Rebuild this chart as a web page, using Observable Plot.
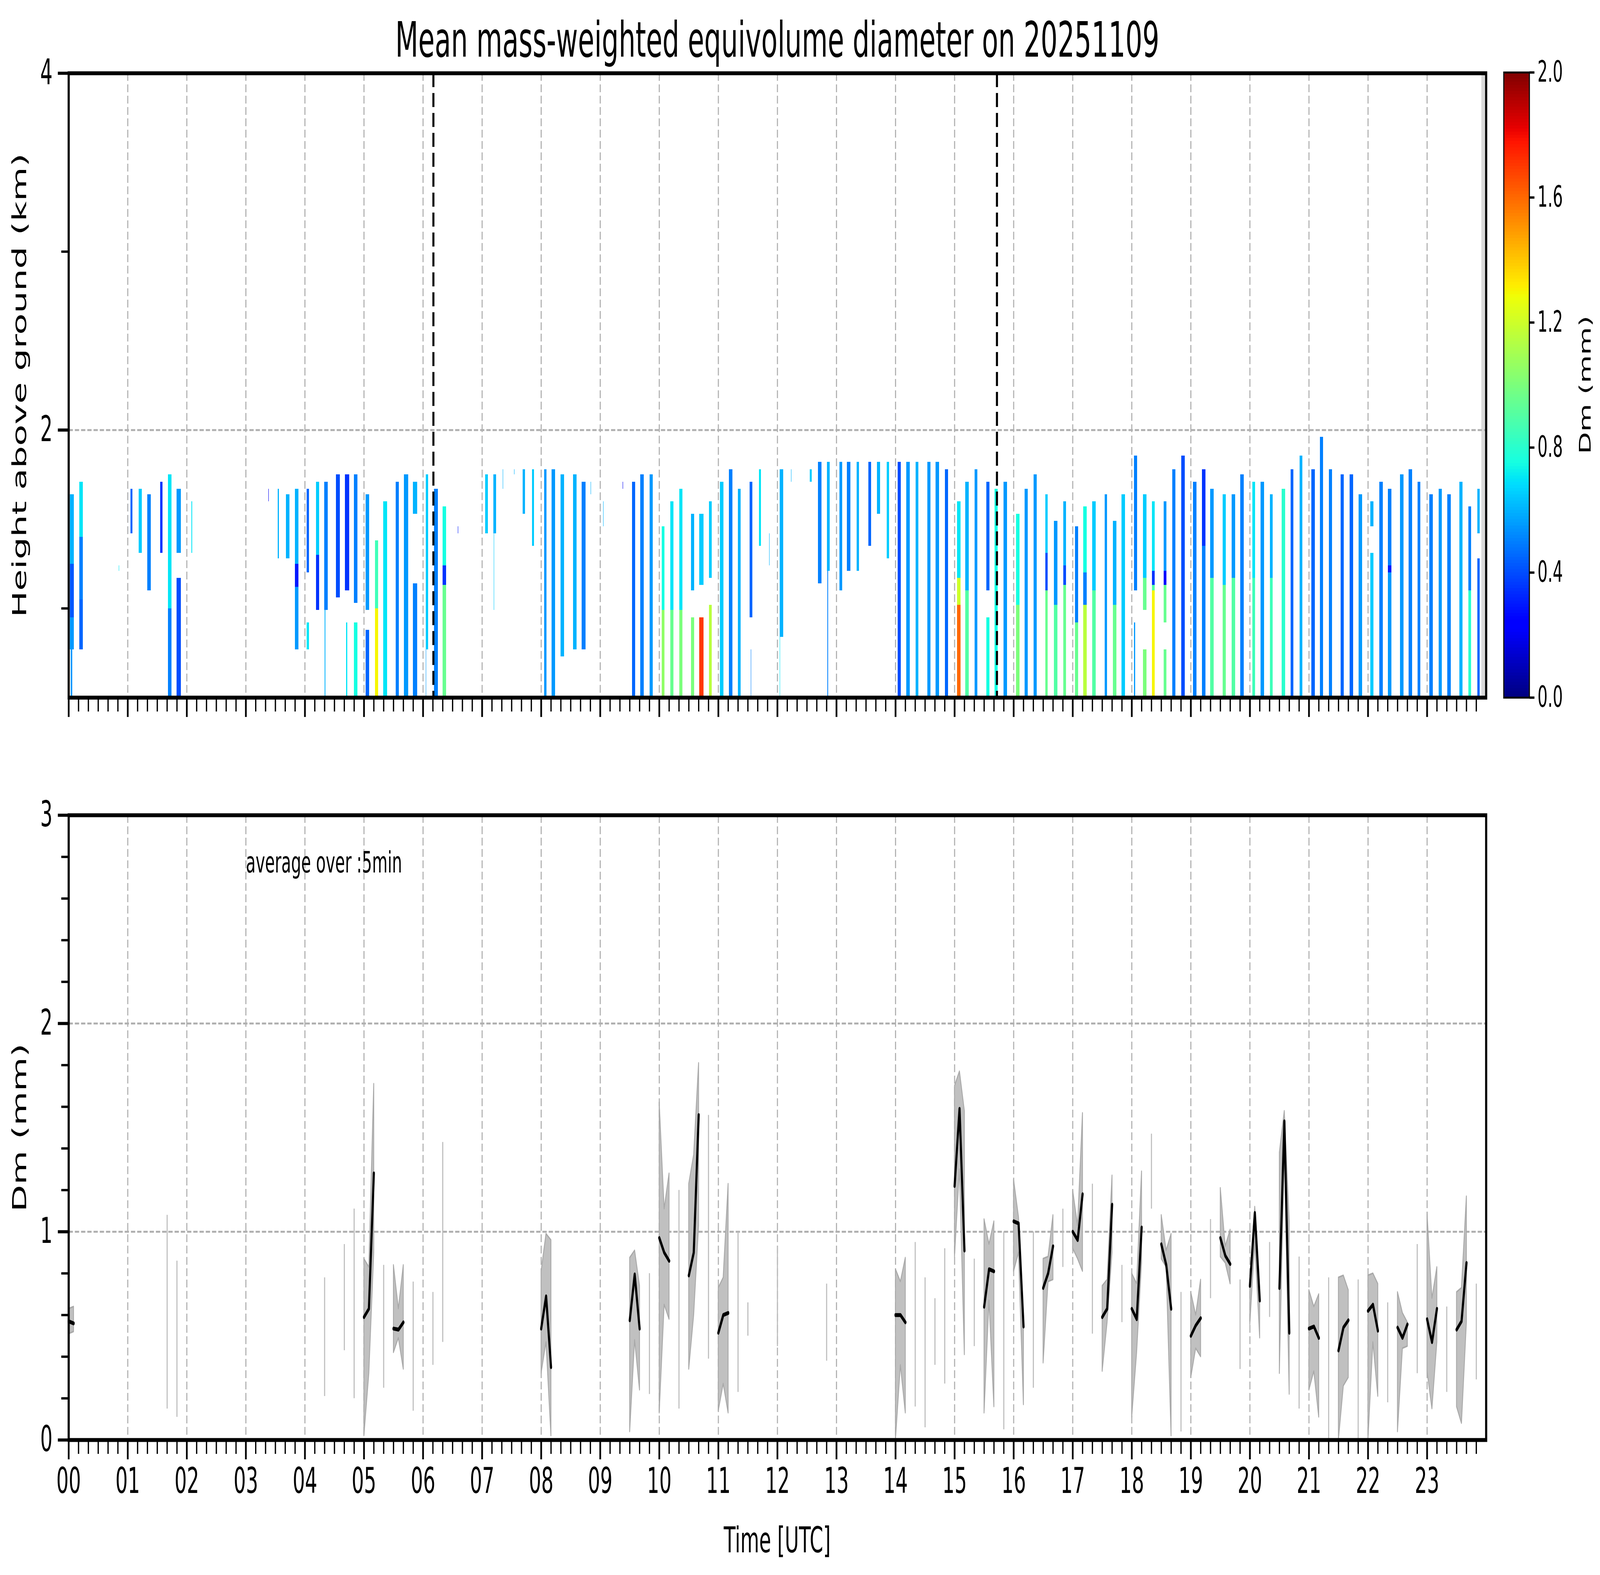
<!DOCTYPE html>
<html lang="en">
<head>
<meta charset="UTF-8">
<title>Mean mass-weighted equivolume diameter on 20251109</title>
<script src="https://cdn.jsdelivr.net/npm/d3@7"></script>
<script src="https://cdn.jsdelivr.net/npm/@observablehq/plot@0.6"></script>
<style>
  html, body { margin: 0; background: #fff; overflow: hidden; }
  #fig { position: relative; width: 7442px; height: 4031px; background: #fff; font-family: "DejaVu Sans", sans-serif; color: #000; overflow: hidden; transform-origin: 0 0; }
  #fig > div { position: absolute; }
  .lbl { white-space: nowrap; line-height: 1; }
  .rot { transform: translate(-50%, -50%) rotate(-90deg); }
  .ctr { transform: translate(-50%, -50%); }
</style>
</head>
<body>
<div id="fig">
  <div id="panelTop" style="left:0;top:0"></div>
  <div id="panelBottom" style="left:0;top:1900px"></div>
  <div id="panelCbar" style="left:6900px;top:0"></div>
  <div class="lbl" style="left:0;top:40px;width:7231px;text-align:center;font-size:124px">Mean mass-weighted equivolume diameter on 20251109</div>
  <div class="lbl rot" style="left:91px;top:986px;font-size:90px">Height above ground (km)</div>
  <div class="lbl rot" style="left:91px;top:2886px;font-size:90px">Dm (mm)</div>
  <div class="lbl ctr" style="left:3615px;top:3942px;font-size:90px">Time [UTC]</div>
  <div class="lbl rot" style="left:7372px;top:985px;font-size:74px">Dm (mm)</div>
</div>
<script>
// ---- top panel: radar scans, [start h, end h, [[top km, bottom km, Dm mm], ...]]
const scans00to06 = [
  [0.023, 0.092, [[1.64, 1.25, 0.6], [1.25, 0.95, 0.42], [0.95, 0.77, 0.55]]],
  [0.035, 0.065, [[0.77, 0.5, 0.55]]],
  [0.181, 0.24, [[1.71, 1.4, 0.7], [1.4, 1.05, 0.5], [1.05, 0.77, 0.45]]],
  [0.85, 0.856, [[1.24, 1.21, 0.7]]],
  [1.05, 1.08, [[1.67, 1.42, 0.45]]],
  [1.19, 1.24, [[1.67, 1.31, 0.65]]],
  [1.33, 1.39, [[1.64, 1.1, 0.5]]],
  [1.55, 1.59, [[1.71, 1.31, 0.35]]],
  [1.68, 1.74, [[1.75, 1.0, 0.7], [1.0, 0.5, 0.5]]],
  [1.83, 1.9, [[1.67, 1.31, 0.55], [1.17, 0.5, 0.4]]],
  [2.08, 2.095, [[1.6, 1.31, 0.7]]],
  [3.38, 3.386, [[1.67, 1.6, 0.2]]],
  [3.54, 3.56, [[1.67, 1.28, 0.6]]],
  [3.68, 3.74, [[1.64, 1.28, 0.6]]],
  [3.83, 3.89, [[1.67, 1.25, 0.6], [1.25, 1.12, 0.3], [1.12, 0.77, 0.55]]],
  [4.03, 4.07, [[1.67, 1.2, 0.45], [0.92, 0.77, 0.7]]],
  [4.19, 4.24, [[1.71, 1.3, 0.65], [1.3, 0.99, 0.35]]],
  [4.33, 4.39, [[1.71, 0.99, 0.5]]],
  [4.335, 4.345, [[0.99, 0.5, 0.6]]],
  [4.53, 4.59, [[1.75, 1.06, 0.4]]],
  [4.68, 4.75, [[1.75, 1.1, 0.35]]],
  [4.7, 4.72, [[0.92, 0.5, 0.7]]],
  [4.83, 4.89, [[1.75, 1.03, 0.5], [0.92, 0.5, 0.75]]],
  [5.03, 5.09, [[1.64, 0.99, 0.55], [0.88, 0.5, 0.45]]],
  [5.19, 5.24, [[1.38, 1.0, 0.85], [1.0, 0.5, 1.3]]],
  [5.33, 5.39, [[1.6, 0.5, 0.7]]],
  [5.54, 5.59, [[1.71, 0.5, 0.5]]],
  [5.68, 5.75, [[1.75, 0.5, 0.55]]],
  [5.83, 5.9, [[1.71, 1.53, 0.6], [1.14, 0.5, 0.5]]]
];
const scans06to12 = [
  [6.05, 6.09, [[1.75, 0.77, 0.65]]],
  [6.05, 6.056, [[0.77, 0.5, 0.55]]],
  [6.19, 6.25, [[1.67, 0.5, 0.5]]],
  [6.33, 6.39, [[1.57, 1.24, 0.75], [1.24, 1.13, 0.35], [1.13, 0.5, 0.95]]],
  [6.59, 6.596, [[1.46, 1.42, 0.3]]],
  [7.05, 7.1, [[1.75, 1.42, 0.65]]],
  [7.19, 7.24, [[1.75, 1.42, 0.6]]],
  [7.2, 7.206, [[1.42, 0.99, 0.65]]],
  [7.35, 7.356, [[1.78, 1.67, 0.6]]],
  [7.54, 7.546, [[1.78, 1.75, 0.6]]],
  [7.69, 7.73, [[1.78, 1.53, 0.6]]],
  [7.85, 7.88, [[1.78, 1.35, 0.65]]],
  [8.05, 8.09, [[1.78, 0.5, 0.55]]],
  [8.18, 8.24, [[1.78, 0.5, 0.55]]],
  [8.33, 8.39, [[1.75, 0.73, 0.6]]],
  [8.54, 8.6, [[1.75, 0.77, 0.6]]],
  [8.69, 8.75, [[1.71, 0.77, 0.5]]],
  [8.84, 8.846, [[1.71, 1.64, 0.6]]],
  [9.05, 9.056, [[1.6, 1.46, 0.6]]],
  [9.38, 9.386, [[1.71, 1.67, 0.2]]],
  [9.54, 9.59, [[1.71, 0.5, 0.45]]],
  [9.68, 9.74, [[1.75, 0.5, 0.5]]],
  [9.84, 9.89, [[1.75, 0.5, 0.55]]],
  [10.04, 10.09, [[1.46, 0.99, 0.75], [0.99, 0.5, 1.05]]],
  [10.19, 10.24, [[1.6, 0.99, 0.7], [0.99, 0.5, 0.95]]],
  [10.34, 10.39, [[1.67, 0.99, 0.7], [0.99, 0.5, 1.0]]],
  [10.54, 10.59, [[1.53, 1.1, 0.6], [0.95, 0.5, 1.0]]],
  [10.68, 10.75, [[1.53, 1.13, 0.65], [0.95, 0.5, 1.7]]],
  [10.84, 10.89, [[1.6, 1.17, 0.65], [1.02, 0.5, 1.15]]],
  [11.03, 11.09, [[1.71, 0.5, 0.65]]],
  [11.18, 11.24, [[1.78, 0.5, 0.5]]],
  [11.33, 11.38, [[1.67, 0.5, 0.6]]],
  [11.53, 11.58, [[1.71, 0.95, 0.45]]],
  [11.55, 11.56, [[0.77, 0.5, 0.5]]],
  [11.69, 11.72, [[1.78, 1.35, 0.7]]],
  [11.86, 11.866, [[1.42, 1.24, 0.6]]]
];
const scans12to18 = [
  [12.04, 12.1, [[1.78, 0.84, 0.6]]],
  [12.04, 12.05, [[0.84, 0.5, 0.7]]],
  [12.23, 12.236, [[1.78, 1.71, 0.6]]],
  [12.55, 12.58, [[1.78, 1.71, 0.65]]],
  [12.69, 12.75, [[1.82, 1.14, 0.5]]],
  [12.84, 12.89, [[1.82, 1.21, 0.6]]],
  [12.85, 12.86, [[1.21, 0.5, 0.5]]],
  [13.05, 13.1, [[1.82, 1.1, 0.55]]],
  [13.18, 13.24, [[1.82, 1.21, 0.5]]],
  [13.34, 13.38, [[1.82, 1.21, 0.6]]],
  [13.54, 13.59, [[1.82, 1.35, 0.45]]],
  [13.69, 13.74, [[1.82, 1.53, 0.6]]],
  [13.85, 13.89, [[1.82, 1.28, 0.65]]],
  [14.04, 14.09, [[1.82, 0.5, 0.4]]],
  [14.18, 14.24, [[1.82, 0.5, 0.55]]],
  [14.34, 14.39, [[1.82, 0.5, 0.6]]],
  [14.54, 14.59, [[1.82, 0.5, 0.55]]],
  [14.68, 14.74, [[1.82, 0.5, 0.55]]],
  [14.84, 14.89, [[1.78, 0.5, 0.45]]],
  [15.04, 15.1, [[1.6, 1.17, 0.7], [1.17, 1.02, 1.2], [1.02, 0.5, 1.6]]],
  [15.18, 15.24, [[1.71, 1.1, 0.6], [1.1, 0.5, 0.9]]],
  [15.34, 15.39, [[1.78, 0.5, 0.55]]],
  [15.54, 15.59, [[1.71, 1.1, 0.45], [0.95, 0.5, 0.75]]],
  [15.68, 15.73, [[1.67, 0.5, 0.75]]],
  [15.83, 15.89, [[1.71, 0.5, 0.55]]],
  [16.04, 16.1, [[1.53, 1.02, 0.75], [1.02, 0.5, 1.0]]],
  [16.19, 16.24, [[1.67, 0.5, 0.55]]],
  [16.34, 16.39, [[1.75, 0.5, 0.55]]],
  [16.54, 16.58, [[1.64, 1.31, 0.65], [1.31, 1.1, 0.4], [1.1, 0.5, 0.95]]],
  [16.68, 16.74, [[1.49, 1.02, 0.55], [1.02, 0.5, 0.9]]],
  [16.84, 16.89, [[1.6, 1.24, 0.6], [1.24, 1.13, 0.4], [1.13, 0.5, 0.95]]],
  [17.04, 17.09, [[1.46, 0.92, 0.5], [0.92, 0.5, 0.95]]],
  [17.18, 17.24, [[1.57, 1.2, 0.75], [1.2, 1.02, 0.5], [1.02, 0.5, 1.15]]],
  [17.33, 17.39, [[1.6, 1.1, 0.65], [1.1, 0.5, 0.9]]],
  [17.54, 17.58, [[1.64, 0.5, 0.55]]],
  [17.68, 17.74, [[1.49, 1.02, 0.6], [1.02, 0.5, 0.95]]],
  [17.83, 17.89, [[1.64, 0.5, 0.65]]]
];
const scans18to24 = [
  [18.04, 18.09, [[1.855, 1.1, 0.5]]],
  [18.04, 18.06, [[0.92, 0.5, 0.55]]],
  [18.19, 18.25, [[1.64, 1.17, 0.65], [1.17, 0.99, 0.95], [0.77, 0.5, 1.0]]],
  [18.34, 18.39, [[1.6, 1.21, 0.7], [1.21, 1.13, 0.35], [1.13, 1.1, 0.9], [1.1, 0.5, 1.3]]],
  [18.54, 18.59, [[1.6, 1.21, 0.55], [1.21, 1.13, 0.25], [1.13, 0.92, 0.95], [0.77, 0.5, 0.95]]],
  [18.69, 18.74, [[1.78, 0.5, 0.5]]],
  [18.84, 18.9, [[1.855, 0.5, 0.4]]],
  [19.04, 19.1, [[1.71, 0.5, 0.5]]],
  [19.19, 19.25, [[1.78, 1.35, 0.35], [1.35, 0.5, 0.5]]],
  [19.33, 19.39, [[1.67, 1.17, 0.55], [1.17, 0.5, 0.9]]],
  [19.54, 19.59, [[1.64, 1.13, 0.65], [1.13, 0.5, 0.95]]],
  [19.69, 19.75, [[1.64, 1.17, 0.55], [1.17, 0.5, 0.9]]],
  [19.84, 19.9, [[1.75, 0.5, 0.5]]],
  [20.04, 20.09, [[1.71, 1.17, 0.7], [1.17, 0.5, 0.85]]],
  [20.18, 20.24, [[1.71, 0.5, 0.55]]],
  [20.34, 20.39, [[1.64, 1.17, 0.6], [1.17, 0.5, 0.85]]],
  [20.54, 20.6, [[1.67, 0.5, 0.8]]],
  [20.69, 20.74, [[1.78, 0.5, 0.45]]],
  [20.84, 20.89, [[1.855, 0.5, 0.6]]],
  [21.04, 21.1, [[1.78, 0.5, 0.45]]],
  [21.19, 21.24, [[1.96, 0.5, 0.5]]],
  [21.34, 21.39, [[1.78, 0.5, 0.5]]],
  [21.54, 21.59, [[1.75, 0.5, 0.45]]],
  [21.69, 21.75, [[1.75, 0.5, 0.45]]],
  [21.84, 21.9, [[1.64, 0.5, 0.55]]],
  [22.04, 22.09, [[1.6, 1.46, 0.6], [1.31, 0.5, 0.65]]],
  [22.19, 22.25, [[1.71, 0.5, 0.5]]],
  [22.34, 22.4, [[1.67, 1.24, 0.5], [1.24, 1.2, 0.3], [1.2, 0.5, 0.55]]],
  [22.54, 22.6, [[1.75, 0.5, 0.55]]],
  [22.69, 22.75, [[1.78, 0.5, 0.5]]],
  [22.84, 22.89, [[1.71, 0.5, 0.5]]],
  [23.04, 23.1, [[1.64, 0.5, 0.5]]],
  [23.2, 23.25, [[1.67, 0.5, 0.55]]],
  [23.34, 23.4, [[1.64, 0.5, 0.5]]],
  [23.55, 23.6, [[1.71, 0.5, 0.6]]],
  [23.7, 23.75, [[1.57, 1.1, 0.5], [1.1, 0.5, 0.8]]],
  [23.85, 23.89, [[1.67, 1.42, 0.6], [1.28, 0.5, 0.45]]]
];
const eventTimes = [6.175, 15.717];     // dashed black markers (h)
const noDataStart = 23.92;              // grey band at end of day

// ---- bottom panel: 5-min Dm, runs of consecutive bins
const segStart = [0, 5.0, 5.5, 8.0, 9.5, 10.0, 10.5, 11.0, 14.0, 15.0, 15.5, 16.0, 16.5,
  17.0, 17.5, 18.0, 18.5, 19.0, 19.5, 20.0, 20.5, 21.0, 21.5, 22.0, 22.5, 23.0, 23.5];
const segMedian = [
  [0.57, 0.56], [0.59, 0.63, 1.28], [0.535, 0.53, 0.565], [0.535, 0.69, 0.35], [0.575, 0.795, 0.535],
  [0.97, 0.9, 0.86], [0.79, 0.9, 1.56], [0.515, 0.6, 0.61], [0.6, 0.6, 0.565], [1.22, 1.59, 0.91],
  [0.64, 0.82, 0.81], [1.05, 1.04, 0.545], [0.73, 0.8, 0.93], [1.0, 0.96, 1.18], [0.59, 0.63, 1.13],
  [0.63, 0.58, 1.02], [0.94, 0.84, 0.63], [0.5, 0.55, 0.585], [0.97, 0.885, 0.845], [0.74, 1.09, 0.67],
  [0.73, 1.53, 0.515], [0.535, 0.545, 0.49], [0.43, 0.54, 0.575], [0.62, 0.65, 0.525], [0.54, 0.49, 0.555],
  [0.58, 0.47, 0.63], [0.53, 0.57, 0.85]
];
const segLow = [
  [0.51, 0.52], [0.02, 0.32, 0.9], [0.42, 0.49, 0.34], [0.32, 0.47, 0.02], [0.04, 0.48, 0.24],
  [0.13, 0.65, 0.58], [0.34, 0.6, 1.03], [0.14, 0.27, 0.13], [0.0, 0.36, 0.13], [0.88, 1.3, 0.41],
  [0.13, 0.67, 0.16], [0.81, 0.9, 0.17], [0.37, 0.76, 0.77], [0.92, 0.87, 0.81], [0.33, 0.565, 0.9],
  [0.11, 0.42, 0.85], [0.87, 0.83, 0.02], [0.3, 0.44, 0.4], [0.88, 0.85, 0.75], [0.555, 0.95, 0.49],
  [0.32, 1.4, 0.22], [0.24, 0.33, 0.11], [0.0, 0.26, 0.3], [0.0, 0.47, 0.21], [0.04, 0.44, 0.45],
  [0.33, 0.15, 0.47], [0.16, 0.08, 0.565]
];
const segHigh = [
  [0.63, 0.64], [0.87, 0.83, 1.71], [0.84, 0.63, 0.84], [0.81, 0.99, 0.96], [0.875, 0.91, 0.74],
  [1.62, 1.11, 1.28], [1.23, 1.37, 1.81], [0.73, 0.78, 1.23], [0.82, 0.76, 0.875], [1.7, 1.77, 1.58],
  [1.06, 0.94, 1.05], [1.25, 1.07, 0.6], [0.87, 0.88, 1.08], [1.2, 1.03, 1.57], [0.74, 0.77, 1.27],
  [0.8, 0.75, 1.29], [1.08, 0.91, 0.99], [0.71, 0.6, 0.77], [1.21, 0.93, 1.01], [0.76, 1.12, 0.72],
  [1.38, 1.58, 1.05], [0.72, 0.64, 0.7], [0.78, 0.79, 0.72], [0.79, 0.8, 0.75], [0.71, 0.61, 0.565],
  [1.09, 0.68, 0.83], [0.71, 0.73, 1.17]
];
// isolated 5-min bins (spread only)
const singleTime = [1.667, 1.833, 4.333, 4.667, 4.833, 5.333, 5.833, 6.167, 6.333, 9.833, 10.333, 10.833,
  11.333, 11.5, 12.0, 12.833, 14.333, 14.5, 14.667, 14.833, 15.333, 15.833, 16.333, 16.833, 17.333,
  17.833, 18.333, 18.833, 19.333, 19.833, 20.333, 20.833, 21.333, 21.833, 22.333, 22.833, 23.333, 23.833];
const singleLow = [0.15, 0.11, 0.21, 0.43, 0.2, 0.25, 0.14, 0.36, 0.47, 0.22, 0.15, 0.39,
  0.23, 0.5, 0.45, 0.38, 0.16, 0.06, 0.36, 0.27, 0.45, 0.05, 0.25, 0.83, 0.51,
  0.565, 1.11, 0.04, 0.68, 0.34, 0.59, 0.15, 0.0, 0.0, 0.18, 0.32, 0.23, 0.29];
const singleHigh = [1.08, 0.86, 0.78, 0.94, 1.11, 0.84, 0.76, 0.71, 1.43, 0.8, 1.2, 1.56,
  1.0, 0.66, 0.93, 0.75, 0.95, 0.78, 0.68, 0.92, 0.87, 1.0, 1.0, 1.11, 1.23,
  0.84, 1.47, 0.71, 1.06, 0.77, 0.95, 0.88, 0.78, 0.77, 0.66, 0.94, 0.64, 0.75];
const noteText = "average over :5min";

const hourTicks = d3.range(0, 24);
const minorHourTicks = d3.range(0, 145).filter(i => i % 6 !== 0).map(i => i / 6);
const cbarTicks = [0, 0.4, 0.8, 1.2, 1.6, 2.0];

// matplotlib "jet"
const JR = [[0, 0], [0.35, 0], [0.66, 1], [0.89, 1], [1, 0.5]];
const JG = [[0, 0], [0.125, 0], [0.375, 1], [0.64, 1], [0.91, 0], [1, 0]];
const JB = [[0, 0.5], [0.11, 1], [0.34, 1], [0.65, 0], [1, 0]];
function piece(pts, t) {
  for (let i = 1; i < pts.length; i++) {
    if (t <= pts[i][0]) {
      const [x0, y0] = pts[i - 1], [x1, y1] = pts[i];
      return y0 + (y1 - y0) * (t - x0) / (x1 - x0);
    }
  }
  return pts[pts.length - 1][1];
}
function jet(t) {
  t = Math.max(0, Math.min(1, t));
  return d3.rgb(255 * piece(JR, t), 255 * piece(JG, t), 255 * piece(JB, t)).formatHex();
}
const colorScale = {type: "linear", domain: [0, 2], interpolate: jet, clamp: true};

const cells = [...scans00to06, ...scans06to12, ...scans12to18, ...scans18to24]
  .flatMap(([t0, t1, layers]) => layers.map(([hTop, hBot, dm]) => ({t0, t1, hTop, hBot, dm})));

const runs = segStart.flatMap((s, k) => segMedian[k].map((m, i) =>
  ({seg: k, t: s + i / 12, med: m, lo: segLow[k][i], hi: segHigh[k][i]})));
const singles = singleTime.map((t, i) => ({t, lo: singleLow[i], hi: singleHigh[i]}));

const gridStyle = {stroke: "#b0b0b0", strokeOpacity: 1, strokeWidth: 5, strokeDasharray: "20,9"};
const fontStyle = {fontFamily: "DejaVu Sans", fontSize: "90px", background: "transparent", color: "black", overflow: "visible"};
const plain = d => String(d);

function timeAxes(labels) {
  return [
    Plot.axisX({ticks: hourTicks, tickSize: 50, strokeWidth: 8, tickPadding: 22, fontSize: 90, label: null,
      tickFormat: labels ? (d => String(d).padStart(2, "0")) : (() => "")}),
    Plot.axisX({ticks: minorHourTicks, tickSize: 36, strokeWidth: 6, label: null, tickFormat: () => ""})
  ];
}

// top panel
const topPlot = Plot.plot({
  width: 7000, height: 1900,
  marginLeft: 319, marginRight: 88, marginTop: 187, marginBottom: 115,
  style: fontStyle,
  x: {domain: [0, 24]},
  y: {domain: [0.5, 4]},
  color: colorScale,
  marks: [
    Plot.rect(cells, {x1: "t0", x2: "t1", y1: "hBot", y2: "hTop", fill: "dm", shapeRendering: "crispEdges"}),
    Plot.rect([noDataStart], {x1: d => d, x2: 24, y1: 0.5, y2: 4, fill: "#d9d9d9"}),
    Plot.gridX({ticks: d3.range(1, 24), ...gridStyle}),
    Plot.gridY({ticks: [2], ...gridStyle}),
    Plot.ruleX(eventTimes, {stroke: "black", strokeWidth: 9.6, strokeDasharray: "36,15"}),
    ...timeAxes(false),
    Plot.axisY({ticks: [2, 4], tickSize: 50, strokeWidth: 8, tickPadding: 25, fontSize: 90, label: null, tickFormat: plain}),
    Plot.axisY({ticks: [1, 3], tickSize: 34, strokeWidth: 6, tickFormat: () => "", label: null}),
    Plot.frame({stroke: "black", strokeWidth: 10})
  ]
});
document.getElementById("panelTop").append(topPlot);

// bottom panel
const bottomPlot = Plot.plot({
  width: 7000, height: 2131,
  marginLeft: 319, marginRight: 88, marginTop: 186, marginBottom: 346,
  style: fontStyle,
  x: {domain: [0, 24]},
  y: {domain: [0, 3]},
  marks: [
    Plot.gridX({ticks: d3.range(1, 24), ...gridStyle}),
    Plot.gridY({ticks: [1, 2], ...gridStyle}),
    Plot.areaY(runs, {x: "t", y1: "lo", y2: "hi", z: "seg", fill: "#c0c0c0", stroke: "#a8a8a8", strokeWidth: 4}),
    Plot.ruleX(singles, {x: "t", y1: "lo", y2: "hi", stroke: "#bdbdbd", strokeWidth: 5}),
    Plot.lineY(runs, {x: "t", y: "med", z: "seg", stroke: "black", strokeWidth: 10, strokeLinejoin: "round"}),
    Plot.text([noteText], {x: 3.0, y: 2.77, text: d => d, textAnchor: "start", fontSize: 74, fill: "black"}),
    ...timeAxes(true),
    Plot.axisY({ticks: [0, 1, 2, 3], tickSize: 50, strokeWidth: 8, tickPadding: 25, fontSize: 90, label: null, tickFormat: plain}),
    Plot.axisY({ticks: d3.range(1, 15).filter(i => i % 5 !== 0).map(i => i / 5), tickSize: 34, strokeWidth: 6, tickFormat: () => "", label: null}),
    Plot.frame({stroke: "black", strokeWidth: 10})
  ]
});
document.getElementById("panelBottom").append(bottomPlot);

// colour bar
const cbStops = d3.range(0, 200).map(i => i / 100);
const cbarPlot = Plot.plot({
  width: 542, height: 1900,
  marginLeft: 94, marginRight: 329, marginTop: 185, marginBottom: 115,
  style: fontStyle,
  x: {domain: [0, 1], axis: null},
  y: {domain: [0, 2]},
  color: colorScale,
  marks: [
    Plot.rect(cbStops, {x1: 0, x2: 1, y1: d => d, y2: d => d + 0.0105, fill: d => d + 0.005}),
    Plot.axisY({anchor: "right", ticks: cbarTicks, tickSize: 23, strokeWidth: 6, tickPadding: 15, fontSize: 74,
      tickFormat: d => d.toFixed(1), label: null}),
    Plot.frame({stroke: "black", strokeWidth: 5})
  ]
});
document.getElementById("panelCbar").append(cbarPlot);

// the window may be narrower than the 7442x4031 figure: fit it
const fig = document.getElementById("fig");
const sx = Math.min(1, window.innerWidth / 7442), sy = Math.min(1, window.innerHeight / 4031);
fig.style.transform = `scale(${sx}, ${sy})`;
</script>
</body>
</html>
